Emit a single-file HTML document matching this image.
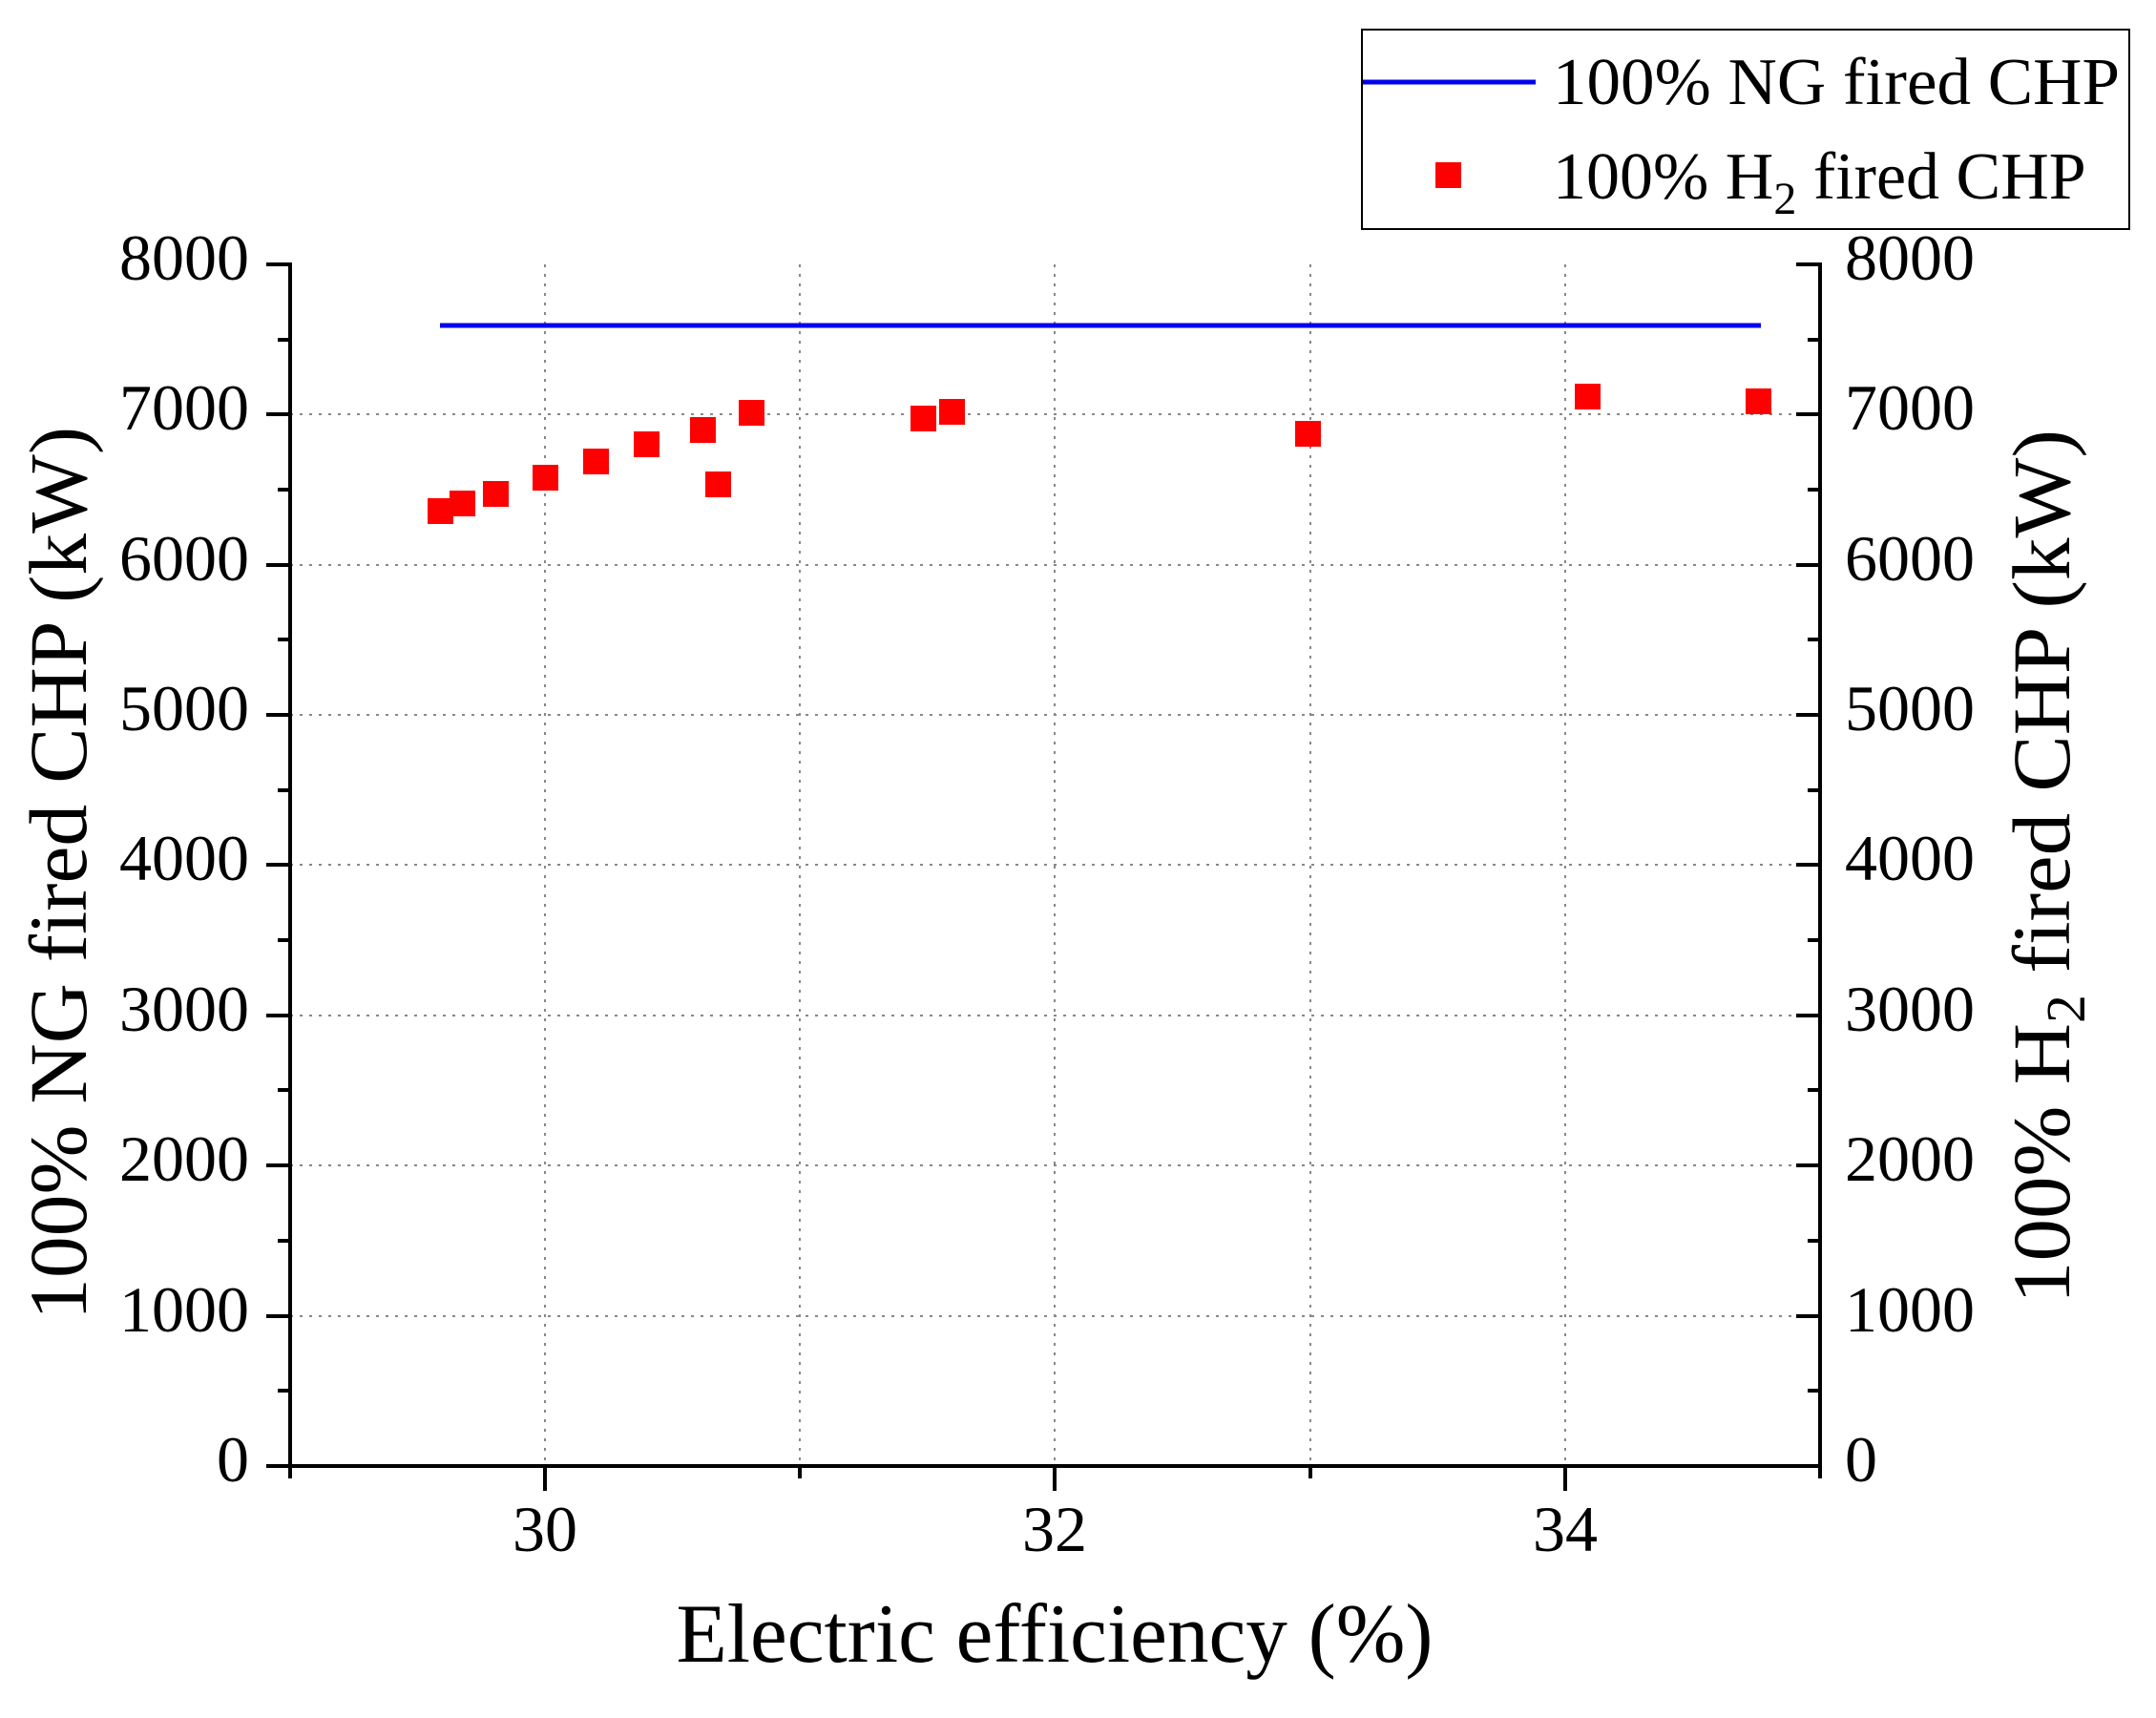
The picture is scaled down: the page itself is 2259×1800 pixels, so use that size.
<!DOCTYPE html>
<html><head><meta charset="utf-8"><style>html,body{margin:0;padding:0;background:#fff}svg{display:block}</style></head>
<body>
<svg width="2259" height="1800" viewBox="0 0 2259 1800" xmlns="http://www.w3.org/2000/svg" font-family="'Liberation Serif', serif" fill="#000">
<rect width="2259" height="1800" fill="#fff"/>
<!-- grid -->
<g stroke="#888" stroke-width="2" stroke-dasharray="3,7">
<line x1="571" y1="277" x2="571" y2="1536"/>
<line x1="838" y1="277" x2="838" y2="1536"/>
<line x1="1105" y1="277" x2="1105" y2="1536"/>
<line x1="1373" y1="277" x2="1373" y2="1536"/>
<line x1="1640" y1="277" x2="1640" y2="1536"/>
<line x1="304" y1="1379" x2="1907" y2="1379"/>
<line x1="304" y1="1221" x2="1907" y2="1221"/>
<line x1="304" y1="1064" x2="1907" y2="1064"/>
<line x1="304" y1="906" x2="1907" y2="906"/>
<line x1="304" y1="749" x2="1907" y2="749"/>
<line x1="304" y1="592" x2="1907" y2="592"/>
<line x1="304" y1="434" x2="1907" y2="434"/>
</g>
<!-- axes -->
<g stroke="#000" stroke-width="4" fill="none">
<line x1="304" y1="275" x2="304" y2="1538"/>
<line x1="1907" y1="275" x2="1907" y2="1538"/>
<line x1="279" y1="1536" x2="1909" y2="1536"/>
<path d="M279 277H304M279 434H304M279 592H304M279 749H304M279 906H304M279 1064H304M279 1221H304M279 1379H304M279 1536H304"/>
<path d="M291 356H304M291 513H304M291 670H304M291 828H304M291 985H304M291 1142H304M291 1300H304M291 1457H304"/>
<path d="M1882 277H1907M1882 434H1907M1882 592H1907M1882 749H1907M1882 906H1907M1882 1064H1907M1882 1221H1907M1882 1379H1907"/>
<path d="M1894 356H1907M1894 513H1907M1894 670H1907M1894 828H1907M1894 985H1907M1894 1142H1907M1894 1300H1907M1894 1457H1907"/>
<path d="M304 1536V1549M571 1536V1562M838 1536V1549M1105 1536V1562M1373 1536V1549M1640 1536V1562M1907 1536V1549"/>
</g>
<!-- left tick labels -->
<g font-size="68" text-anchor="end">
<text x="261" y="293">8000</text><text x="261" y="450">7000</text><text x="261" y="608">6000</text>
<text x="261" y="765">5000</text><text x="261" y="922">4000</text><text x="261" y="1080">3000</text>
<text x="261" y="1237">2000</text><text x="261" y="1395">1000</text><text x="261" y="1552">0</text>
</g>
<g font-size="68">
<text x="1933" y="293">8000</text><text x="1933" y="450">7000</text><text x="1933" y="608">6000</text>
<text x="1933" y="765">5000</text><text x="1933" y="922">4000</text><text x="1933" y="1080">3000</text>
<text x="1933" y="1237">2000</text><text x="1933" y="1395">1000</text><text x="1933" y="1552">0</text>
</g>
<g font-size="68" text-anchor="middle">
<text x="571" y="1625">30</text><text x="1105" y="1625">32</text><text x="1640" y="1625">34</text>
</g>
<text x="1105" y="1741" font-size="88" text-anchor="middle" textLength="793" lengthAdjust="spacingAndGlyphs">Electric efficiency (%)</text>
<text transform="translate(90,915) rotate(-90)" font-size="86" text-anchor="middle" textLength="936" lengthAdjust="spacingAndGlyphs">100% NG fired CHP (kW)</text>
<text transform="translate(2168,908) rotate(-90)" font-size="86" text-anchor="middle" textLength="916" lengthAdjust="spacingAndGlyphs">100% H<tspan font-size="58" dy="16">2</tspan><tspan dy="-16"> fired CHP (kW)</tspan></text>
<!-- NG line -->
<line x1="461" y1="341" x2="1845" y2="341" stroke="#0000ee" stroke-width="5"/>
<!-- H2 points -->
<g fill="#ff0000">
<rect x="448" y="522" width="27" height="27"/>
<rect x="471" y="514" width="27" height="27"/>
<rect x="506" y="504" width="27" height="27"/>
<rect x="558" y="487" width="27" height="27"/>
<rect x="611" y="470" width="27" height="27"/>
<rect x="664" y="452" width="27" height="27"/>
<rect x="723" y="437" width="27" height="27"/>
<rect x="739" y="494" width="27" height="27"/>
<rect x="774" y="419" width="27" height="27"/>
<rect x="954" y="425" width="27" height="27"/>
<rect x="984" y="418" width="27" height="27"/>
<rect x="1357" y="441" width="27" height="27"/>
<rect x="1650" y="402" width="27" height="27"/>
<rect x="1829" y="407" width="27" height="27"/>
</g>
<!-- legend -->
<rect x="1427" y="31" width="804" height="209" fill="#fff" stroke="#000" stroke-width="2"/>
<line x1="1428" y1="86" x2="1609" y2="86" stroke="#0000ee" stroke-width="5"/>
<rect x="1504" y="170" width="27" height="27" fill="#ff0000"/>
<text x="1627" y="109" font-size="70" textLength="594" lengthAdjust="spacingAndGlyphs">100% NG fired CHP</text>
<text x="1627" y="208" font-size="70">100% H<tspan font-size="48" dy="16">2</tspan><tspan dy="-16"> fired CHP</tspan></text>
</svg>
</body></html>
